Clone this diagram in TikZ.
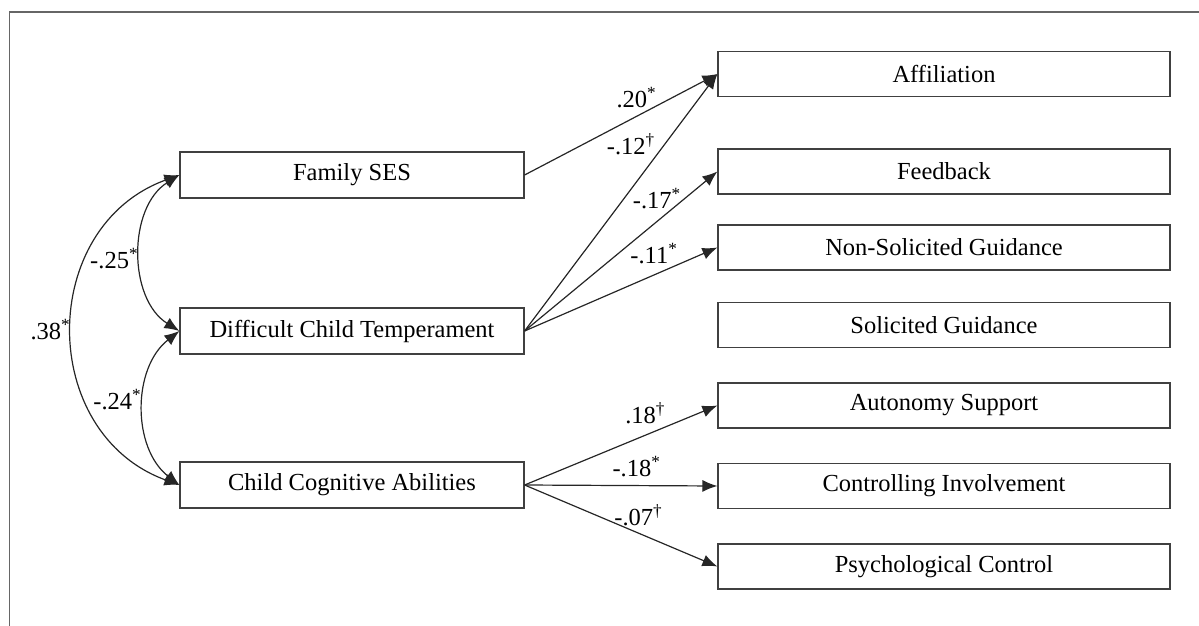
\documentclass[tikz,border=0pt]{standalone}
\usepackage{fontspec}
\setmainfont{Liberation Serif}
\usetikzlibrary{arrows.meta,positioning}

\begin{document}
\begin{tikzpicture}[
    x=1pt, y=-1pt,
    >={Latex[length=15pt,width=12pt]},
    font=\fontsize{24.5}{28}\selectfont,
    line width=1.2pt,
    factor/.style={
		rectangle,
		draw=black!75,
		text centered,
		minimum width=344pt,
		minimum height=46pt,
		inner sep=0pt,
		fill=white
	},
    outcome/.style={
		rectangle,
		draw=black!75,
		text centered,
		minimum width=452pt,
		minimum height=45pt,
		inner sep=0pt,
		fill=white
	},
    effect/.style={
		->,
		draw=black!85
	},
    coef/.style={
		inner sep=2pt
	}
  ]
  \useasboundingbox (0,0) rectangle (1199,626);
  % frame of the figure
  \draw [black!60, line width=1.5pt] (9.5,626) -- (9.5,12) -- (1199,12);

  % We start by placing the predictors
  \node [factor] (ses) at (352,175) {Family SES};
  \node [factor] (temp) at (352,331) {Difficult Child Temperament};
  \node [factor] (cog) at (352,485) {Child Cognitive Abilities};

  % then the parenting outcomes
  \node [outcome] (affil) at (944,74) {Affiliation};
  \node [outcome] (feed) at (944,171.5) {Feedback};
  \node [outcome] (nonsol) at (944,247.5) {Non-Solicited Guidance};
  \node [outcome] (sol) at (944,325) {Solicited Guidance};
  \node [outcome] (auton) at (944,405.5) {Autonomy Support};
  \node [outcome] (contr) at (944,486) {Controlling Involvement};
  \node [outcome] (psych) at (944,566.5) {Psychological Control};

  % correlations
  \draw [<->, draw=black!85] (ses.west) to [bend right=58] node [coef, left, yshift=-6pt] {-.25\textsuperscript{*}} (temp.west);
  \draw [<->, draw=black!85] (temp.west) to [bend right=52] node [coef, left, yshift=8pt] {-.24\textsuperscript{*}} (cog.west);
  \draw [<->, draw=black!85] (ses.west) to [bend right=70, looseness=1.25] node [coef, left] {.38\textsuperscript{*}} (cog.west);

  % paths
  \draw [effect] (ses.east) -- node [coef, pos=0.59, above, xshift=-2pt, yshift=5pt] {.20\textsuperscript{*}} (affil.west);
  \draw [effect] (temp.east) -- node [coef, pos=0.72, left, xshift=-6pt, yshift=2pt] {-.12\textsuperscript{\textdagger}} (affil.west);
  \draw [effect] (temp.east) -- node [coef, pos=0.67, above, xshift=3pt, yshift=13pt] {-.17\textsuperscript{*}} (feed.west);
  \draw [effect] (temp.east) -- node [coef, pos=0.66, above, xshift=2pt, yshift=9pt] {-.11\textsuperscript{*}} (nonsol.west);
  \draw [effect] (cog.east) -- node [coef, pos=0.61, above, xshift=3pt, yshift=10pt] {.18\textsuperscript{\textdagger}} (auton.west);
  \draw [effect] (cog.east) -- node [coef, pos=0.58, above, yshift=6pt] {-.18\textsuperscript{*}} (contr.west);
  \draw [effect] (cog.east) -- node [coef, pos=0.6, above, xshift=-2pt, yshift=5pt] {-.07\textsuperscript{\textdagger}} (psych.west);
\end{tikzpicture}
\end{document}
